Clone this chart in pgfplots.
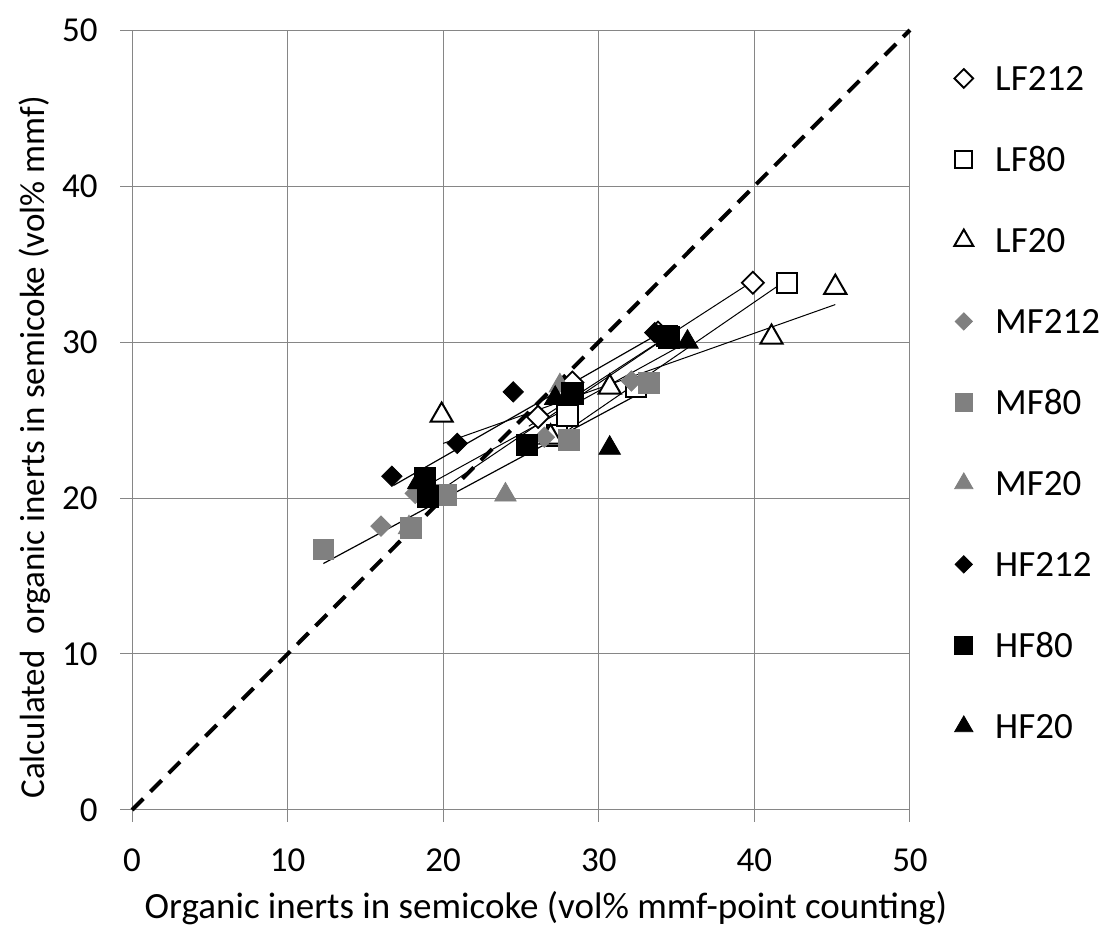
\documentclass[border=0pt]{standalone}
\usepackage{pgfplots}
\pgfplotsset{compat=1.18}
\usepackage{fontspec}
\setmainfont{Carlito}
\definecolor{mgray}{RGB}{128,128,128}
\definecolor{ggrid}{RGB}{134,134,134}
\begin{document}
\begin{tikzpicture}
\begin{axis}[
  width=389pt, height=390pt, scale only axis,
  xmin=0, xmax=50, ymin=0, ymax=50,
  xtick={0,10,...,50}, ytick={0,10,...,50},
  grid=major, grid style={ggrid, line width=0.5pt},
  axis line style={ggrid, line width=0.5pt},
  tick style={ggrid, line width=0.5pt},
  tick align=outside, major tick length=6pt,
  xtick pos=bottom, ytick pos=left,
  /pgf/number format/assume math mode=true,
  tick label style={font=\fontsize{17.5}{20}\selectfont},
  xticklabel style={anchor=north, inner sep=0pt, yshift=-13pt},
  yticklabel style={anchor=east, inner sep=0pt, xshift=-11pt},
  xlabel={Organic inerts in semicoke (vol\% mmf-point counting)},
  ylabel={Calculated\ \ organic inerts in semicoke (vol\% mmf)},
  xlabel style={font=\fontsize{18.5}{21}\selectfont, at={([xshift=12.5pt,yshift=-49pt]axis description cs:0.5,0)}, anchor=center},
  ylabel style={font=\fontsize{17.5}{20}\selectfont, at={([xshift=-48.5pt,yshift=-13.5pt]axis description cs:0,0.5)}, anchor=center},
  clip=false,
  legend cell align=left,
  legend style={at={(1.0,1.0)}, anchor=north west, xshift=22pt, yshift=-18pt,
    draw=none, fill=none, inner sep=0pt,
    font=\fontsize{18.5}{21}\selectfont, row sep=28.5pt,
    nodes={inner sep=0pt, text height=12pt, text depth=0pt},
    /tikz/every odd column/.append style={column sep=11pt}},
  legend image code/.code={\draw[#1,/tikz/every mark/.append style={scale=0.85}] plot coordinates {(0pt,0pt)};},
]
% bounding box of the whole picture
\path (rel axis cs:-0.1697,-0.1667) rectangle (rel axis cs:1.2571,1.0385);
% 1:1 line
\addplot[forget plot, black, line width=2pt, dash pattern=on 8pt off 5pt] coordinates {(0,0) (50,50)};
% trend lines
\addplot[forget plot, black, line width=0.5pt] coordinates {(25.5,24.6) (39.9,33.9)};
\addplot[forget plot, black, line width=0.5pt] coordinates {(26.5,23.3) (42.1,34.0)};
\addplot[forget plot, black, line width=0.5pt] coordinates {(20.0,23.5) (45.2,32.4)};
\addplot[forget plot, black, line width=0.6pt] coordinates {(12.3,15.8) (33.0,26.9)};
\addplot[forget plot, black, line width=0.6pt] coordinates {(16.8,20.8) (33.8,30.5)};
\addplot[forget plot, black, line width=0.5pt] coordinates {(18.8,19.8) (34.5,30.4)};
\addplot[forget plot, black, line width=0.5pt] coordinates {(18.4,20.5) (35.7,30.0)};
% series
\addplot[only marks, mark=square*, mark size=3.9pt, mark options={rotate=45, fill=white, draw=black, line width=0.9pt}]
  coordinates {(26.1,25.2) (28.3,27.4) (33.8,30.6) (39.9,33.8)};
\addlegendentry{LF212}
\addplot[only marks, mark=square*, mark size=5.1pt, mark options={fill=white, draw=black, line width=1pt}]
  coordinates {(27.3,24.0) (28.0,25.3) (32.4,27.1) (34.4,30.4) (42.1,33.8)};
\addlegendentry{LF80}
\addplot[only marks, mark=triangle*, mark size=6.4pt, mark options={fill=white, draw=black, line width=1pt}]
  coordinates {(19.9,25.3) (26.9,23.9) (30.7,27.1) (41.1,30.3) (45.2,33.5)};
\addlegendentry{LF20}
\addplot[only marks, mark=square*, mark size=3.6pt, mark options={rotate=45, fill=mgray, draw=mgray}]
  coordinates {(16.0,18.2) (18.2,20.3) (26.5,23.9) (32.1,27.5)};
\addlegendentry{MF212}
\addplot[only marks, mark=square*, mark size=5.2pt, mark options={fill=mgray, draw=mgray}]
  coordinates {(12.3,16.7) (17.9,18.1) (20.2,20.2) (28.1,23.7) (33.2,27.4)};
\addlegendentry{MF80}
\addplot[only marks, mark=triangle*, mark size=6.2pt, mark options={fill=mgray, draw=mgray}]
  coordinates {(17.8,18.1) (24.0,20.2) (27.5,27.2)};
\addlegendentry{MF20}
\addplot[only marks, mark=square*, mark size=3.6pt, mark options={rotate=45, fill=black, draw=black}]
  coordinates {(16.7,21.4) (20.9,23.5) (24.5,26.8) (33.6,30.6)};
\addlegendentry{HF212}
\addplot[only marks, mark=square*, mark size=5.3pt, mark options={fill=black, draw=black}]
  coordinates {(18.8,21.3) (19.0,20.1) (25.4,23.4) (28.3,26.7) (34.5,30.3)};
\addlegendentry{HF80}
\addplot[only marks, mark=triangle*, mark size=6.2pt, mark options={fill=black, draw=black}]
  coordinates {(18.4,21.0) (27.2,26.4) (30.7,23.2) (35.7,30.0)};
\addlegendentry{HF20}
\end{axis}
\end{tikzpicture}
\end{document}
